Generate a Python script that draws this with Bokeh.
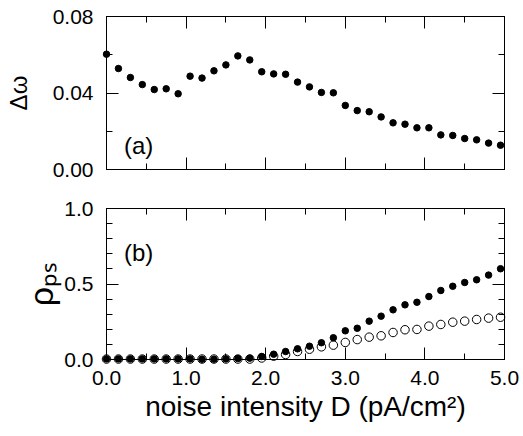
from bokeh.plotting import figure
from bokeh.layouts import column
from bokeh.models import LinearAxis, SingleIntervalTicker, PrintfTickFormatter, Label, Range1d
from bokeh.embed import file_html
from bokeh.resources import INLINE

# ---- data ----
D = [0.00, 0.15, 0.30, 0.45, 0.60, 0.75, 0.90, 1.05, 1.20, 1.35, 1.50, 1.65,
     1.80, 1.95, 2.10, 2.25, 2.40, 2.55, 2.70, 2.85, 3.00, 3.15, 3.30, 3.45,
     3.60, 3.75, 3.90, 4.05, 4.20, 4.35, 4.50, 4.65, 4.80, 4.95]

delta_omega = [0.0603, 0.0528, 0.0481, 0.0444, 0.0418, 0.0422, 0.0396, 0.0488,
               0.0478, 0.0516, 0.0547, 0.0594, 0.0573, 0.0511, 0.0500, 0.0498,
               0.0457, 0.0432, 0.0403, 0.0401, 0.0335, 0.0308, 0.0302, 0.0275,
               0.0244, 0.0237, 0.0218, 0.0218, 0.0181, 0.0178, 0.0162, 0.0155,
               0.0138, 0.0127]

rho_filled = [0.004, 0.004, 0.004, 0.004, 0.004, 0.004, 0.004, 0.004, 0.002,
              0.002, 0.004, 0.006, 0.009, 0.020, 0.035, 0.053, 0.071, 0.088,
              0.111, 0.144, 0.190, 0.207, 0.254, 0.287, 0.329, 0.362, 0.379,
              0.417, 0.457, 0.485, 0.510, 0.528, 0.559, 0.601]

rho_open = [0.003, 0.003, 0.003, 0.003, 0.003, 0.003, 0.003, 0.003, 0.003,
            0.003, 0.003, 0.003, 0.003, 0.010, 0.022, 0.033, 0.053, 0.068,
            0.084, 0.095, 0.113, 0.132, 0.148, 0.157, 0.179, 0.197, 0.199,
            0.221, 0.232, 0.247, 0.254, 0.265, 0.274, 0.280]

x_range_vals = (0.0, 5.0)
top_y_range = (0.0, 0.08)
bot_y_range = (0.0, 1.0)

FONT = "Liberation Sans"


def style_axis(ax, show_labels, fmt=None):
    ax.axis_line_color = "black"
    ax.axis_line_width = 1
    ax.major_tick_in = 12
    ax.major_tick_out = 0
    ax.minor_tick_in = 6
    ax.minor_tick_out = 0
    ax.major_tick_line_color = "black"
    ax.minor_tick_line_color = "black"
    ax.major_label_text_font = FONT
    if show_labels:
        ax.major_label_text_color = "black"
        ax.major_label_text_font_size = "21px"
        if fmt:
            ax.formatter = PrintfTickFormatter(format=fmt)
    else:
        ax.major_label_text_color = None
        ax.major_label_text_font_size = "1px"
        ax.major_label_standoff = 0


def style_title(ax, text, size, standoff):
    ax.axis_label = text
    ax.axis_label_text_font = FONT
    ax.axis_label_text_font_size = size
    ax.axis_label_text_font_style = "normal"
    ax.axis_label_text_color = "black"
    ax.axis_label_standoff = standoff


def make_fig(frame_h, yr, y_interval, y_minor, y_fmt, min_top, min_bottom, x_labels):
    p = figure(frame_width=398, frame_height=frame_h,
               x_range=Range1d(*x_range_vals), y_range=Range1d(*yr),
               output_backend="svg", toolbar_location=None,
               min_border_left=106, min_border_right=17,
               min_border_top=min_top, min_border_bottom=min_bottom)
    p.xgrid.visible = False
    p.ygrid.visible = False
    p.outline_line_color = "black"
    p.outline_line_width = 1
    p.background_fill_color = "white"
    p.border_fill_color = "white"

    xaxis = p.below[0]
    yaxis = p.left[0]
    xaxis.ticker = SingleIntervalTicker(interval=1.0, num_minor_ticks=2)
    yaxis.ticker = SingleIntervalTicker(interval=y_interval, num_minor_ticks=y_minor)
    style_axis(xaxis, x_labels, "%.1f")
    style_axis(yaxis, True, y_fmt)
    yaxis.major_label_standoff = 13
    if x_labels:
        xaxis.major_label_standoff = 11

    top = LinearAxis(ticker=SingleIntervalTicker(interval=1.0, num_minor_ticks=2))
    style_axis(top, False)
    p.add_layout(top, "above")
    right = LinearAxis(ticker=SingleIntervalTicker(interval=y_interval, num_minor_ticks=y_minor))
    style_axis(right, False)
    p.add_layout(right, "right")
    return p, xaxis, yaxis


def text_label(p, x, y, text, size):
    p.add_layout(Label(x=x, y=y, text=text, text_align="left",
                       text_baseline="alphabetic", text_font=FONT,
                       text_font_size=size, text_color="black"))


# ---- panel (a) ----
p1, x1, y1 = make_fig(153, top_y_range, 0.04, 2, "%.2f", 16, 19, False)
style_title(y1, "Δω", "24px", 18)
p1.scatter(D, delta_omega, marker="circle", size=6.5, fill_color="black",
           line_color="black", level="overlay")
text_label(p1, 0.22, 0.0126, "(a)", "24px")

# ---- panel (b) ----
p2, x2, y2 = make_fig(151, bot_y_range, 0.5, 5, "%.1f", 20, 75, True)
style_title(x2, "noise intensity D (pA/cm²)", "28px", 3)
style_title(y2, "ρₚₛ", "34px", 1)
p2.scatter(D, rho_open, marker="circle", size=8.5, fill_color=None,
           line_color="black", line_width=1, level="overlay")
p2.scatter(D, rho_filled, marker="circle", size=6.5, fill_color="black",
           line_color="black", level="overlay")
text_label(p2, 0.22, 0.71, "(b)", "24px")

layout = column(p1, p2, spacing=0)
open("out.html", "w").write(file_html(layout, INLINE))
